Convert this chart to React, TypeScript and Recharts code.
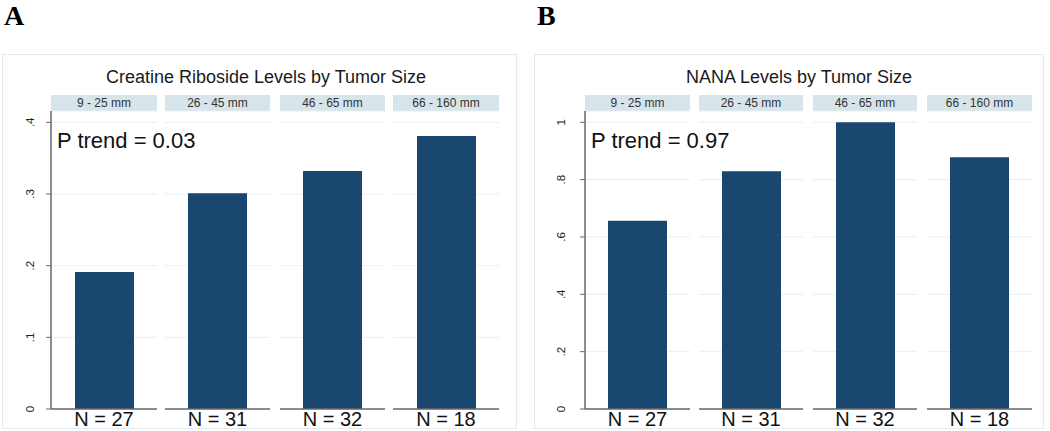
import React from "react";
import { Bar, BarChart, CartesianGrid, XAxis, YAxis } from "recharts";

// tumor size groups shared by both panels
const sizeGroups = ["9 - 25 mm", "26 - 45 mm", "46 - 65 mm", "66 - 160 mm"];
const groupN = [27, 31, 32, 18];

// mean levels
const creatineRiboside = [0.191, 0.301, 0.332, 0.381];
const nanaLevels = [0.657, 0.829, 1.0, 0.878];

const creatineTicks = [0, 0.1, 0.2, 0.3, 0.4];
const nanaTicks = [0, 0.2, 0.4, 0.6, 0.8, 1];

const FONT = '"Liberation Sans", Arial, sans-serif';
const BAR_COLOR = "#1a476f";
const STRIP_COLOR = "#d7e4ea";
const AXIS_COLOR = "dimgray";
const GRID_COLOR = "#e8eff2";
const BORDER_COLOR = "#e2ebef";

const CHART_TOP = 105;
const PLOT_TOP_MARGIN = 6;
const PLOT_HEIGHT = 298;
const X_AXIS_HEIGHT = 22;
const Y_AXIS_WIDTH = 40;
const PLOT_TOP = CHART_TOP + PLOT_TOP_MARGIN;
const PLOT_BOTTOM = PLOT_TOP + PLOT_HEIGHT;

interface PanelConfig {
  letter: string;
  letterX: number;
  title: string;
  titleX: number;
  pTrend: string;
  values: number[];
  ticks: number[];
  yMax: number;
  facetX: number[];
  facetW: number[];
  labelGap: number;
  border: { x: number; w: number };
}

const panels: PanelConfig[] = [
  {
    letter: "A",
    letterX: 4,
    title: "Creatine Riboside Levels by Tumor Size",
    titleX: 266,
    pTrend: "P trend = 0.03",
    values: creatineRiboside,
    ticks: creatineTicks,
    yMax: 0.4158,
    facetX: [51, 165, 280, 393],
    facetW: [106, 105, 105, 106],
    labelGap: 12,
    border: { x: 2.5, w: 514 },
  },
  {
    letter: "B",
    letterX: 537,
    title: "NANA Levels by Tumor Size",
    titleX: 799,
    pTrend: "P trend = 0.97",
    values: nanaLevels,
    ticks: nanaTicks,
    yMax: 1.0394,
    facetX: [585, 699, 813, 927],
    facetW: [105, 104, 104, 105],
    labelGap: 15,
    border: { x: 534.5, w: 509 },
  },
];

const fmtTick = (v: number) => (v === 0 ? "0" : String(v).replace(/^0/, ""));

const Facet = ({ panel, i }: { panel: PanelConfig; i: number }) => {
  const withAxis = i === 0;
  const left = panel.facetX[i] - (withAxis ? Y_AXIS_WIDTH : 0);
  const width = panel.facetW[i] + (withAxis ? Y_AXIS_WIDTH : 0);
  const data = [{ group: sizeGroups[i], n: groupN[i], value: panel.values[i] }];

  const yTick = (props: any) => {
    const bx = props.x - panel.labelGap;
    return (
      <text
        x={bx}
        y={props.y}
        transform={`rotate(-90 ${bx} ${props.y})`}
        textAnchor="middle"
        fontSize={11.5}
        fontFamily={FONT}
        fill="#222"
      >
        {fmtTick(props.payload.value)}
      </text>
    );
  };

  const nTick = (props: any) => (
    <text x={props.x} y={props.y + 17} textAnchor="middle" fontSize={20} fontFamily={FONT} fill="#111">
      {`N = ${data[0].n}`}
    </text>
  );

  return (
    <div style={{ position: "absolute", left, top: CHART_TOP }}>
      <BarChart
        width={width}
        height={PLOT_TOP_MARGIN + PLOT_HEIGHT + X_AXIS_HEIGHT}
        data={data}
        margin={{ top: PLOT_TOP_MARGIN, right: 0, bottom: 0, left: 0 }}
      >
        <CartesianGrid vertical={false} stroke={GRID_COLOR} />
        <XAxis
          dataKey="group"
          height={X_AXIS_HEIGHT}
          axisLine={{ stroke: AXIS_COLOR, strokeWidth: 1 }}
          tickLine={false}
          tickSize={0}
          tickMargin={0}
          tick={nTick}
        />
        {withAxis ? (
          <YAxis
            width={Y_AXIS_WIDTH}
            domain={[0, panel.yMax]}
            ticks={panel.ticks}
            axisLine={{ stroke: AXIS_COLOR, strokeWidth: 1 }}
            tickLine={{ stroke: AXIS_COLOR, strokeWidth: 1 }}
            tickSize={5}
            tickMargin={0}
            tick={yTick}
          />
        ) : (
          <YAxis hide domain={[0, panel.yMax]} ticks={panel.ticks} />
        )}
        <Bar dataKey="value" fill={BAR_COLOR} barSize={59} isAnimationActive={false} />
      </BarChart>
    </div>
  );
};

const Panel = ({ panel }: { panel: PanelConfig }) => (
  <>
    <svg width={1050} height={431} style={{ position: "absolute", left: 0, top: 0 }}>
      <rect
        x={panel.border.x}
        y={54.5}
        width={panel.border.w}
        height={374}
        fill="none"
        stroke={BORDER_COLOR}
      />
      <text
        x={panel.letterX}
        y={25}
        fontSize={28}
        fontWeight="bold"
        fontFamily='"Liberation Serif", "Times New Roman", serif'
        fill="#000"
      >
        {panel.letter}
      </text>
      <text x={panel.titleX} y={83} textAnchor="middle" fontSize={18} fontFamily={FONT} fill="#1a1a1a">
        {panel.title}
      </text>
      {sizeGroups.map((g, i) => (
        <g key={g}>
          <rect x={panel.facetX[i]} y={95} width={panel.facetW[i]} height={16} fill={STRIP_COLOR} />
          <text
            x={panel.facetX[i] + panel.facetW[i] / 2}
            y={106.5}
            textAnchor="middle"
            fontSize={12}
            fontFamily={FONT}
            fill="#333"
          >
            {g}
          </text>
        </g>
      ))}
      <text x={panel.facetX[0] + 6} y={148} fontSize={22} fontFamily={FONT} fill="#111">
        {panel.pTrend}
      </text>
    </svg>
    {sizeGroups.map((g, i) => (
      <Facet key={g} panel={panel} i={i} />
    ))}
    {/* frame lines of the facets, drawn over the charts */}
    <svg width={1050} height={431} style={{ position: "absolute", left: 0, top: 0, pointerEvents: "none" }}>
      <line
        x1={panel.facetX[0]}
        x2={panel.facetX[0]}
        y1={PLOT_TOP}
        y2={PLOT_BOTTOM}
        stroke={AXIS_COLOR}
        strokeWidth={1}
      />
      {sizeGroups.map((g, i) => (
        <line
          key={g}
          x1={panel.facetX[i]}
          x2={panel.facetX[i] + panel.facetW[i]}
          y1={PLOT_BOTTOM}
          y2={PLOT_BOTTOM}
          stroke={AXIS_COLOR}
          strokeWidth={1}
        />
      ))}
    </svg>
  </>
);

export default function App() {
  return (
    <div style={{ position: "absolute", left: 0, top: 0, width: 1050, height: 431, background: "#fff" }}>
      {panels.map((p) => (
        <Panel key={p.letter} panel={p} />
      ))}
    </div>
  );
}
